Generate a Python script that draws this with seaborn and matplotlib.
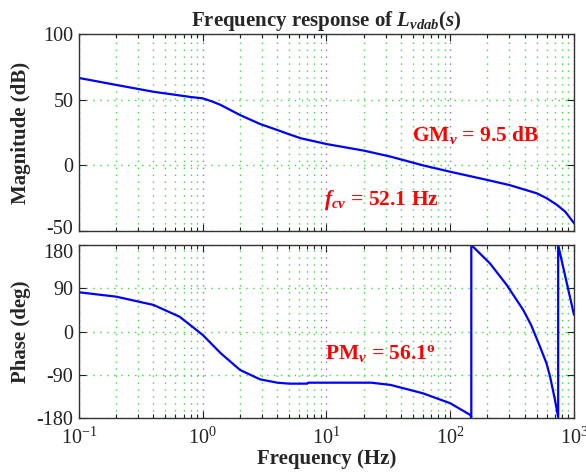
import numpy as np
import matplotlib
matplotlib.use("Agg")
import matplotlib.pyplot as plt
import matplotlib.ticker as mticker
import matplotlib.transforms as mtransforms
import seaborn as sns

# --- Données ---
freq_mag = [0.1, 0.2, 0.4, 0.7, 0.8, 1.0, 1.2, 1.4, 2.0, 2.9, 4.0, 5.0, 6.2, 10, 20, 33,
            60, 100, 200, 300, 500, 600, 725, 850, 1000]
mag_db = [66.5, 61.2, 56.0, 52.8, 52.0, 51.0, 48.5, 45.9, 38.3, 31.5, 26.9, 23.6, 20.6, 16.2,
          11.2, 6.6, 0.0, -4.9, -11.2, -15.0, -21.3, -25.0, -30.0, -35.3, -44.0]

freq_phase = [0.1, 0.2, 0.4, 0.65, 0.79, 1.0, 1.4, 2.0, 2.9, 4.0, 5.0, 7.0, 7.1, 23, 33, 60,
              100, 145, 148, 148, 209, 286, 389, 450, 531, 600, 640, 700, 745, 745, 1000]
phase_deg = [81.8, 72.7, 55.5, 31.0, 14.0, -6.9, -45.0, -79.5, -99.0, -106.0, -108.0, -108.0,
             -106.0, -106.0, -110.7, -128.0, -148.7, -173.0, -178.0, 180.0, 142.0, 97.0, 45.0,
             14.0, -31.0, -66.0, -93.0, -140.0, -178.0, 180.0, 35.0]

sns.set_style("ticks")
plt.rcParams["font.family"] = ["Liberation Serif", "DejaVu Serif"]
plt.rcParams["axes.unicode_minus"] = False
plt.rcParams["mathtext.fontset"] = "custom"
plt.rcParams["mathtext.it"] = "Liberation Serif:italic:bold"
plt.rcParams["mathtext.rm"] = "Liberation Serif:bold"
plt.rcParams["mathtext.bf"] = "Liberation Serif:bold"

fig = plt.figure(figsize=(5.86, 4.74), dpi=100)
ax1 = fig.add_axes([0.1348, 0.5127, 0.8447, 0.4156])
ax2 = fig.add_axes([0.1348, 0.1175, 0.8447, 0.3656])

green = "#33dd33"
purple = "#9966dd"
dots = (0, (1, 4))

for ax in (ax1, ax2):
    ax.set_xscale("log")
    ax.set_xlim(0.1, 1000)
    ax.xaxis.set_major_locator(mticker.LogLocator(base=10, numticks=10))
    ax.xaxis.set_minor_locator(mticker.LogLocator(base=10, subs=np.arange(2, 10), numticks=20))
    ax.grid(which="major", axis="x", color=purple, linestyle=dots, linewidth=1)
    ax.grid(which="minor", axis="x", color=green, linestyle=dots, linewidth=1)
    ax.grid(which="major", axis="y", color=green, linestyle=dots, linewidth=1)
    ax.tick_params(which="both", direction="in", top=True, right=True, labelsize=14.5,
                   colors="#222222", pad=4)
    ax.tick_params(axis="x", which="major", pad=7)
    ax.tick_params(which="major", length=5, width=0.8)
    ax.tick_params(which="minor", length=3, width=0.8)
    for s in ax.spines.values():
        s.set_color("#333333")
        s.set_linewidth(1)

# --- Amplitude ---
sns.lineplot(x=freq_mag, y=mag_db, ax=ax1, color="#0000ff", linewidth=1.6,
             estimator=None, sort=False)
ax1.set_ylim(-50, 100)
ax1.set_yticks([-50, 0, 50, 100])
ax1.tick_params(axis="x", which="both", labelbottom=False)
ax1.set_xlabel("")
ax1.set_ylabel("Magnitude (dB)", fontsize=15, fontweight="bold")
ax1.yaxis.set_label_coords(-0.097, 0.5)
ax1.set_title("Frequency response of $L_{vdab}(s)$", fontsize=15, fontweight="bold", pad=6)
ax1.text(161, 23, "GM$_v$ = 9.5 dB", color="red", fontsize=15.5, fontweight="bold",
         ha="center", va="center")
ax1.text(28, -26.4, "$f_{cv}$ = 52.1 Hz", color="red", fontsize=15.5, fontweight="bold",
         ha="center", va="center")

# --- Phase ---
sns.lineplot(x=freq_phase, y=phase_deg, ax=ax2, color="#0000ff", linewidth=1.6,
             estimator=None, sort=False)
ax2.set_ylim(-180, 180)
ax2.set_yticks([-180, -90, 0, 90, 180])
ax2.set_ylabel("Phase (deg)", fontsize=15, fontweight="bold")
ax2.yaxis.set_label_coords(-0.097, 0.5)
ax2.set_xlabel("Frequency (Hz)", fontsize=15, fontweight="bold", labelpad=0)
ax2.text(27.4, -46, "PM$_v$ = 56.1$^\\mathrm{o}$", color="red", fontsize=15.5,
         fontweight="bold", ha="center", va="center")

# petits décalages des étiquettes -50 et 180 comme sur l'original
lab_bot = ax1.yaxis.get_major_ticks()[0].label1
lab_bot.set_transform(lab_bot.get_transform() +
                      mtransforms.ScaledTranslation(0, 3 / 72, fig.dpi_scale_trans))
lab_top = ax2.yaxis.get_major_ticks()[-1].label1
lab_top.set_transform(lab_top.get_transform() +
                      mtransforms.ScaledTranslation(0, -4 / 72, fig.dpi_scale_trans))

fig.savefig("out.png", dpi=100)
